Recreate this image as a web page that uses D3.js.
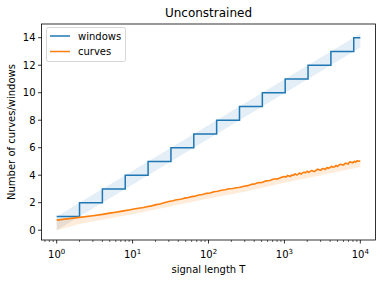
<!DOCTYPE html>
<html><head><meta charset="utf-8">
<script src="https://cdn.jsdelivr.net/npm/d3@7"></script>
<style>body{margin:0;background:#fff}svg{display:block;font-family:"DejaVu Sans",sans-serif}</style>
</head><body><svg id="c" width="382" height="282"></svg>
<script>
// ---- data ----
const windowsT = [1,2,4,8,16,32,64,128,256,512,1024,2048,4096,8192,10000];
const windowsN = [1,2,3,4,5,6,7,8,9,10,11,12,13,14,14];
const windowsBandT = [1,10000];
const windowsLow = [0,13.29];
const windowsHigh = [1,14.29];

const curvesT = [1,2,3,4,5,6,7,8,9,10,12,14,16,18,20,23,26,30,34,38,43,48,54,60,67,75,84,94,105,118,132,148,166,186,208,233,261,292,327,366,410,459,514,576,645,722,809,906,
 1000,1047,1096,1148,1202,1259,1318,1380,1445,1514,1585,1660,1738,1820,1905,1995,2089,2188,2291,2399,2512,2630,2754,2884,3020,3162,3311,3467,3631,3802,3981,4169,4365,4571,4786,5012,5248,5495,5754,6026,6310,6607,6918,7244,7586,7943,8318,8710,9120,9550,10000];
const curvesN = [0.73,0.93,1.05,1.15,1.24,1.31,1.37,1.42,1.47,1.52,1.59,1.65,1.72,1.77,1.84,1.91,2.0,2.09,2.14,2.21,2.25,2.33,2.37,2.44,2.48,2.56,2.59,2.68,2.70,2.80,2.83,2.90,2.94,3.01,3.03,3.09,3.12,3.20,3.24,3.33,3.37,3.46,3.48,3.59,3.61,3.72,3.73,3.84,
 3.91,3.86,3.97,3.95,3.91,4.02,3.99,4.10,4.02,4.07,4.16,4.07,4.18,4.22,4.18,4.29,4.20,4.28,4.34,4.29,4.27,4.38,4.44,4.38,4.37,4.48,4.47,4.42,4.56,4.50,4.56,4.65,4.57,4.61,4.71,4.63,4.75,4.80,4.75,4.75,4.86,4.86,4.81,4.97,4.94,4.90,5.01,4.95,5.06,5.01,5.03];
const curvesBandT = [1,2,4,10,30,100,300,1000,3000,10000];
const curvesLow = [0,0.45,0.75,1.15,1.7,2.3,2.8,3.45,4.0,4.6];
const curvesHigh = [0.8,0.97,1.2,1.56,2.13,2.74,3.25,3.9,4.47,5.12];

const yTicks = [0,2,4,6,8,10,12,14];
const xTicks = [1,10,100,1000,10000];
const xTickExp = ["0","1","2","3","4"];
const seriesNames = ["windows","curves"];
const colors = ["#1f77b4","#ff7f0e"];

// ---- chart ----
const svg = d3.select("#c");
const L=41.5,R=375.5,T=24,B=240;
const x = d3.scaleLog().domain([Math.pow(10,-0.2),Math.pow(10,4.2)]).range([L,R]);
const y = d3.scaleLinear().domain([-0.715,15.0]).range([B,T]);

const area = (ts,lo,hi)=>d3.area().x((d,i)=>x(ts[i])).y0((d,i)=>y(lo[i])).y1((d,i)=>y(hi[i]))(ts);
svg.append("path").attr("d",area(windowsBandT,windowsLow,windowsHigh)).attr("fill",colors[0]).attr("fill-opacity",0.12);
svg.append("path").attr("d",area(curvesBandT,curvesLow,curvesHigh)).attr("fill",colors[1]).attr("fill-opacity",0.15);

const stepLine = d3.line().curve(d3.curveStepAfter).x((d,i)=>x(windowsT[i])).y(d=>y(d));
svg.append("path").attr("d",stepLine(windowsN)).attr("fill","none").attr("stroke",colors[0]).attr("stroke-width",1.5);
const cLine = d3.line().x((d,i)=>x(curvesT[i])).y(d=>y(d));
svg.append("path").attr("d",cLine(curvesN)).attr("fill","none").attr("stroke",colors[1]).attr("stroke-width",1.6).attr("stroke-linejoin","round");

// axes
const minor = [];
for (let e=-1;e<=4;e++) for (let k=2;k<=9;k++){const v=k*Math.pow(10,e); if(v>=x.domain()[0]&&v<=x.domain()[1]) minor.push(v);}
const gx = svg.append("g").attr("transform",`translate(0,${B})`);
gx.selectAll("line.mi").data(minor).join("line").attr("x1",d=>x(d)).attr("x2",d=>x(d)).attr("y1",0).attr("y2",2).attr("stroke","#000").attr("stroke-width",0.6);
gx.selectAll("line.ma").data(xTicks).join("line").attr("x1",d=>x(d)).attr("x2",d=>x(d)).attr("y1",0).attr("y2",3.5).attr("stroke","#000").attr("stroke-width",0.8);
const xt = gx.selectAll("text").data(xTicks).join("text").attr("x",d=>x(d)).attr("y",18).attr("text-anchor","middle").attr("font-size",10).attr("fill","#000");
xt.append("tspan").text("10");
xt.append("tspan").attr("dy",-4).attr("font-size",7).text((d,i)=>xTickExp[i]);

const gy = svg.append("g");
gy.selectAll("line").data(yTicks).join("line").attr("x1",L-3.5).attr("x2",L).attr("y1",d=>y(d)).attr("y2",d=>y(d)).attr("stroke","#000").attr("stroke-width",0.8);
gy.selectAll("text").data(yTicks).join("text").attr("x",L-6).attr("y",d=>y(d)+3.5).attr("text-anchor","end").attr("font-size",10).attr("fill","#000").text(d=>d);

svg.append("rect").attr("x",L).attr("y",T).attr("width",R-L).attr("height",B-T).attr("fill","none").attr("stroke","#000").attr("stroke-width",0.8);

svg.append("text").attr("x",(L+R)/2).attr("y",273).attr("text-anchor","middle").attr("font-size",10).text("signal length T");
svg.append("text").attr("transform",`translate(15,${(T+B)/2}) rotate(-90)`).attr("text-anchor","middle").attr("font-size",10).text("Number of curves/windows");
svg.append("text").attr("x",(L+R)/2).attr("y",17).attr("text-anchor","middle").attr("font-size",12).text("Unconstrained");

// legend
const lg = svg.append("g");
lg.append("rect").attr("x",46.5).attr("y",27.5).attr("width",79).attr("height",34).attr("rx",2).attr("fill","#fff").attr("fill-opacity",0.8).attr("stroke","#ccc").attr("stroke-width",0.8);
seriesNames.forEach((n,i)=>{
  const yy = 36+i*15.5;
  lg.append("line").attr("x1",50).attr("x2",70).attr("y1",yy).attr("y2",yy).attr("stroke",colors[i]).attr("stroke-width",1.5);
  lg.append("text").attr("x",78).attr("y",yy+3.5).attr("font-size",10).text(n);
});
</script></body></html>
